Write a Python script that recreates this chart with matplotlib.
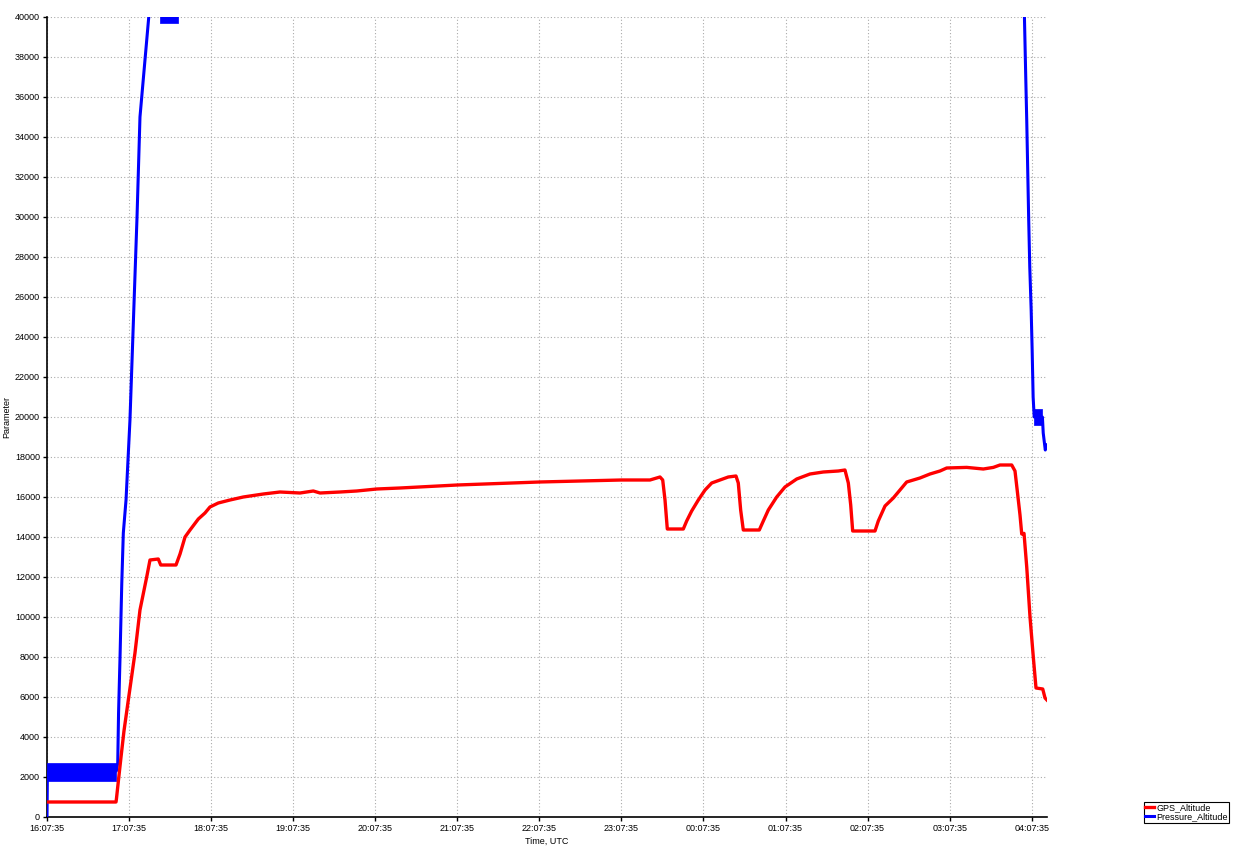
import matplotlib
matplotlib.use("Agg")
import matplotlib.pyplot as plt
import numpy as np

# time in hours since 16:07:35 UTC
gps_t = [0.0, 0.841, 0.846, 0.871, 0.902, 0.938, 0.991, 1.072, 1.133, 1.215, 1.255,
         1.356, 1.386, 1.572, 1.621, 1.682, 1.743, 1.844, 1.925, 1.986, 2.087, 2.230,
         2.392, 2.636, 2.839, 3.083, 3.245, 3.327, 3.571, 3.774, 4.018, 4.302, 5.0,
         6.0, 7.0, 7.348, 7.470, 7.503, 7.531, 7.559, 7.754, 7.795, 7.856, 7.937,
         8.019, 8.100, 8.201, 8.302, 8.396, 8.424, 8.453, 8.485, 8.680, 8.729, 8.790,
         8.892, 8.993, 9.136, 9.298, 9.460, 9.643, 9.724, 9.765, 9.794, 9.818,
         10.090, 10.130, 10.212, 10.313, 10.415, 10.476, 10.638, 10.760, 10.882,
         10.964, 11.208, 11.410, 11.532, 11.613, 11.756, 11.796, 11.824, 11.857,
         11.878, 11.906, 11.939, 11.979, 12.019, 12.052, 12.134, 12.162, 12.185]
gps_alt = [750, 750, 900, 1850, 3000, 4300, 5850, 8200, 10350, 12000, 12850,
           12900, 12600, 12600, 13150, 14000, 14350, 14900, 15200, 15500, 15700, 15850,
           16000, 16150, 16250, 16200, 16300, 16200, 16250, 16300, 16400, 16450, 16600,
           16750, 16850, 16850, 17000, 16850, 15850, 14400, 14400, 14800, 15300, 15850,
           16350, 16700, 16850, 17000, 17050, 16700, 15350, 14350, 14350, 14800, 15350,
           16000, 16500, 16900, 17150, 17250, 17300, 17350, 16700, 15600, 14300,
           14300, 14800, 15550, 15950, 16450, 16750, 16950, 17150, 17300,
           17450, 17480, 17400, 17480, 17600, 17600, 17300, 16300, 15100,
           14150, 14180, 12500, 10000, 8000, 6450, 6400, 5950, 5850]

pres_t = [0.0, 0.005, 0.845, 0.862, 0.872, 0.890, 0.911, 0.930, 0.963, 1.011, 1.097,
          1.133, 1.24, 1.30, 1.36, 1.48, 1.60, 1.62, 2.2, 11.6, 11.89, 11.911, 11.927,
          11.939, 11.951, 11.963, 11.976, 11.993, 12.005, 12.017, 12.03, 12.08, 12.13,
          12.14, 12.165, 12.186]
pres_alt = [0, 2200, 2300, 2700, 5200, 8000, 11650, 14200, 15850, 19850, 30000,
            35000, 40000, 41500, 40300, 39900, 40300, 41000, 60000, 60000, 42000, 40000,
            37000, 34850, 32350, 29850, 27500, 25350, 23350, 21000, 20000, 20000, 20000,
            19200, 18350, 18600]

# noise envelopes of the pressure trace (min / max)
band_t = [[0.003, 0.845], [1.377, 1.594], [12.03, 12.13]]
band_lo = [1800, 39700, 19600]
band_hi = [2700, 40500, 20400]

xticks = list(range(0, 13))
xlabels = ["16:07:35", "17:07:35", "18:07:35", "19:07:35", "20:07:35", "21:07:35",
           "22:07:35", "23:07:35", "00:07:35", "01:07:35", "02:07:35", "03:07:35",
           "04:07:35"]
yticks = list(range(0, 40001, 2000))

plt.rcParams['font.family'] = ['Liberation Sans', 'DejaVu Sans']

fig = plt.figure(figsize=(12.38, 8.49), dpi=100)
ax = fig.add_axes([47/1238, 1-817/849, 1000/1238, 800/849])

ax.plot(pres_t, pres_alt, color='#0000ff', lw=2.2, zorder=3, label='Pressure_Altitude')
for (t0, t1), lo, hi in zip(band_t, band_lo, band_hi):
    ax.fill_between([t0, t1], [lo, lo], [hi, hi], color='#0000ff', lw=0.5, zorder=3)
ax.plot(gps_t, gps_alt, color='#ff0000', lw=2.4, zorder=4, label='GPS_Altitude')

ax.set_xlim(0, 12.186)
ax.set_ylim(0, 40000)
ax.set_xticks(xticks)
ax.set_xticklabels(xlabels)
ax.set_yticks(yticks)
ax.set_yticklabels([str(v) for v in yticks])
ax.tick_params(labelsize=6.5, length=3, width=1, colors='black', pad=2)
ax.grid(True, color='#aaaaaa', linestyle=(0, (1, 2)), lw=0.8)
for s in ['top', 'right']:
    ax.spines[s].set_visible(False)
for s in ['left', 'bottom']:
    ax.spines[s].set_linewidth(1.2)

ax.set_xlabel('Time, UTC', fontsize=6.5, labelpad=3)
ax.set_ylabel('Parameter', fontsize=6.5, labelpad=3)

h, l = ax.get_legend_handles_labels()
leg = fig.legend([h[1], h[0]], [l[1], l[0]], loc='upper left',
                 bbox_to_anchor=(1144/1238, 1-802/849), fontsize=6.5,
                 handlelength=1.0, handletextpad=0.2, borderpad=0.15,
                 labelspacing=0.0, fancybox=False, edgecolor='black',
                 framealpha=1, borderaxespad=0)
leg.get_frame().set_linewidth(0.8)

fig.savefig('out.png', dpi=100)
